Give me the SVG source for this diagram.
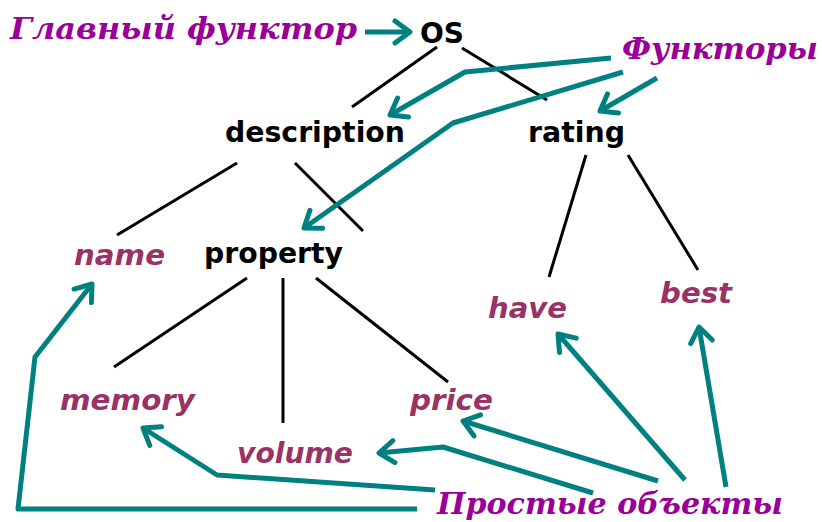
<svg xmlns="http://www.w3.org/2000/svg" width="822" height="522" viewBox="0 0 822 522">
  <style>
    .node { font-family: "DejaVu Sans", Verdana, sans-serif; font-weight: bold; font-size: 28px; fill: #000000; }
    .leaf { font-family: "DejaVu Sans", Verdana, sans-serif; font-weight: bold; font-style: italic; font-size: 28px; fill: #993366; }
    .note { font-family: "DejaVu Serif", "Liberation Serif", serif; font-weight: bold; font-style: italic; font-size: 30px; fill: #990099; }
    .edge { stroke: #000000; stroke-width: 3; fill: none; }
    .ptr { stroke: #008080; stroke-width: 5; fill: none; stroke-linejoin: round; marker-end: url(#head); }
  </style>
  <defs>
    <marker id="head" markerUnits="userSpaceOnUse" viewBox="-24 -16 28 32" refX="0" refY="0" markerWidth="28" markerHeight="32" orient="auto">
      <path d="M-15,-11 L0,0 L-15,11" fill="none" stroke="#008080" stroke-width="5" stroke-linecap="round" stroke-linejoin="round"/>
    </marker>
  </defs>
  <rect width="822" height="522" fill="#ffffff"/>

  <!-- tree edges -->
  <g id="edges">
    <line class="edge" x1="437" y1="47" x2="352" y2="107"/>
    <line class="edge" x1="462" y1="48" x2="547" y2="100"/>
    <line class="edge" x1="237" y1="163" x2="117" y2="235"/>
    <line class="edge" x1="295" y1="163" x2="363" y2="231"/>
    <line class="edge" x1="586" y1="155" x2="549" y2="277"/>
    <line class="edge" x1="628" y1="155" x2="698" y2="270"/>
    <line class="edge" x1="247" y1="278" x2="114" y2="367"/>
    <line class="edge" x1="283" y1="278" x2="283" y2="423"/>
    <line class="edge" x1="316" y1="278" x2="448" y2="382"/>
  </g>

  <!-- annotation pointers -->
  <g id="connectors">
    <polyline class="ptr" points="365,32 410,32"/>
    <polyline class="ptr" points="611,58 465,72 390,115"/>
    <polyline class="ptr" points="623,72 453,123 304,228"/>
    <polyline class="ptr" points="657,78 600,111"/>
    <polyline class="ptr" points="417,509 18,509 35,357 92,284"/>
    <polyline class="ptr" points="435,490 217,475 143,428"/>
    <polyline class="ptr" points="593,493 443,447 379,453"/>
    <polyline class="ptr" points="658,481 463,421"/>
    <polyline class="ptr" points="685,480 558,334"/>
    <polyline class="ptr" points="726,487 699,327"/>
  </g>

  <g id="main-functor-label"><text class="note" x="10" y="39" textLength="347" lengthAdjust="spacingAndGlyphs">Главный функтор</text></g>
  <g id="functors-label"><text class="note" x="622" y="59" textLength="196" lengthAdjust="spacingAndGlyphs">Функторы</text></g>
  <g id="simple-objects-label"><text class="note" x="437" y="514" textLength="346" lengthAdjust="spacingAndGlyphs">Простые объекты</text></g>

  <g id="os"><text class="node" x="420" y="43" textLength="44" lengthAdjust="spacingAndGlyphs">OS</text></g>
  <g id="description"><text class="node" x="225" y="142" textLength="180" lengthAdjust="spacingAndGlyphs">description</text></g>
  <g id="rating"><text class="node" x="528" y="142" textLength="97" lengthAdjust="spacingAndGlyphs">rating</text></g>
  <g id="property"><text class="node" x="204" y="263" textLength="139" lengthAdjust="spacingAndGlyphs">property</text></g>
  <g id="name"><text class="leaf" x="74" y="265" textLength="91" lengthAdjust="spacingAndGlyphs">name</text></g>
  <g id="have"><text class="leaf" x="488" y="318" textLength="79" lengthAdjust="spacingAndGlyphs">have</text></g>
  <g id="best"><text class="leaf" x="660" y="303" textLength="72" lengthAdjust="spacingAndGlyphs">best</text></g>
  <g id="memory"><text class="leaf" x="60" y="410" textLength="135" lengthAdjust="spacingAndGlyphs">memory</text></g>
  <g id="volume"><text class="leaf" x="237" y="463" textLength="116" lengthAdjust="spacingAndGlyphs">volume</text></g>
  <g id="price"><text class="leaf" x="410" y="410" textLength="83" lengthAdjust="spacingAndGlyphs">price</text></g>
</svg>
